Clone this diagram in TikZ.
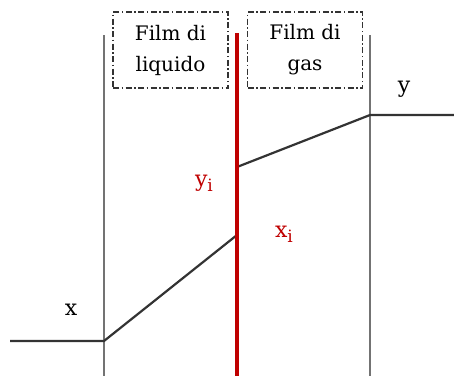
\documentclass[tikz,border=0pt]{standalone}
\usepackage{fontspec}
\setmainfont{DejaVu Serif}
\begin{document}
\begin{tikzpicture}[x=1pt,y=-1pt,
  wall/.style={draw=black!55,line width=1.8pt},
  iface/.style={draw=red!75!black,line width=3.5pt},
  profile/.style={draw=black!80,line width=2.2pt},
  filmbox/.style={draw=black!80,line width=1.3pt,dash pattern=on 6pt off 2.5pt on 1.5pt off 2.5pt,minimum width=115pt,minimum height=76pt,inner sep=0pt,align=center,font=\fontsize{20}{31}\selectfont},
  lab/.style={font=\fontsize{22}{26}\selectfont,inner sep=0pt},
  subi/.style={}]
\useasboundingbox (0,0) rectangle (454,376);
\coordinate (lw1) at (104,35); \coordinate (lw2) at (104,376);
\coordinate (rw1) at (370,35); \coordinate (rw2) at (370,376);
\coordinate (iw1) at (237,33); \coordinate (iw2) at (237,376);
\draw[wall] (lw1) -- (lw2);
\draw[wall] (rw1) -- (rw2);
\coordinate (p0) at (10,341);
\coordinate (p1) at (104,341);
\coordinate (p2) at (237,235);
\coordinate (p3) at (237,167);
\coordinate (p4) at (370,115);
\coordinate (p5) at (454,115);
\draw[profile,line join=round] (p0) -- (p1) -- (p2);
\draw[profile,line join=round] (p3) -- (p4) -- (p5);
\draw[iface] (iw1) -- (iw2);
\node[filmbox] (liq) at (170.5,50) {Film di\\liquido};
\node[filmbox] (gas) at (305,50) {Film di\\gas};
\node[lab] (x) at (71,310) {x};
\node[lab] (y) at (404,89) {y};
\node[lab,text=red!75!black] (yi) at (204,183) {y\raisebox{-0.45ex}{\fontsize{17}{17}\selectfont i}};
\node[lab,text=red!75!black] (xi) at (284,234) {x\raisebox{-0.45ex}{\fontsize{17}{17}\selectfont i}};
\end{tikzpicture}
\end{document}
